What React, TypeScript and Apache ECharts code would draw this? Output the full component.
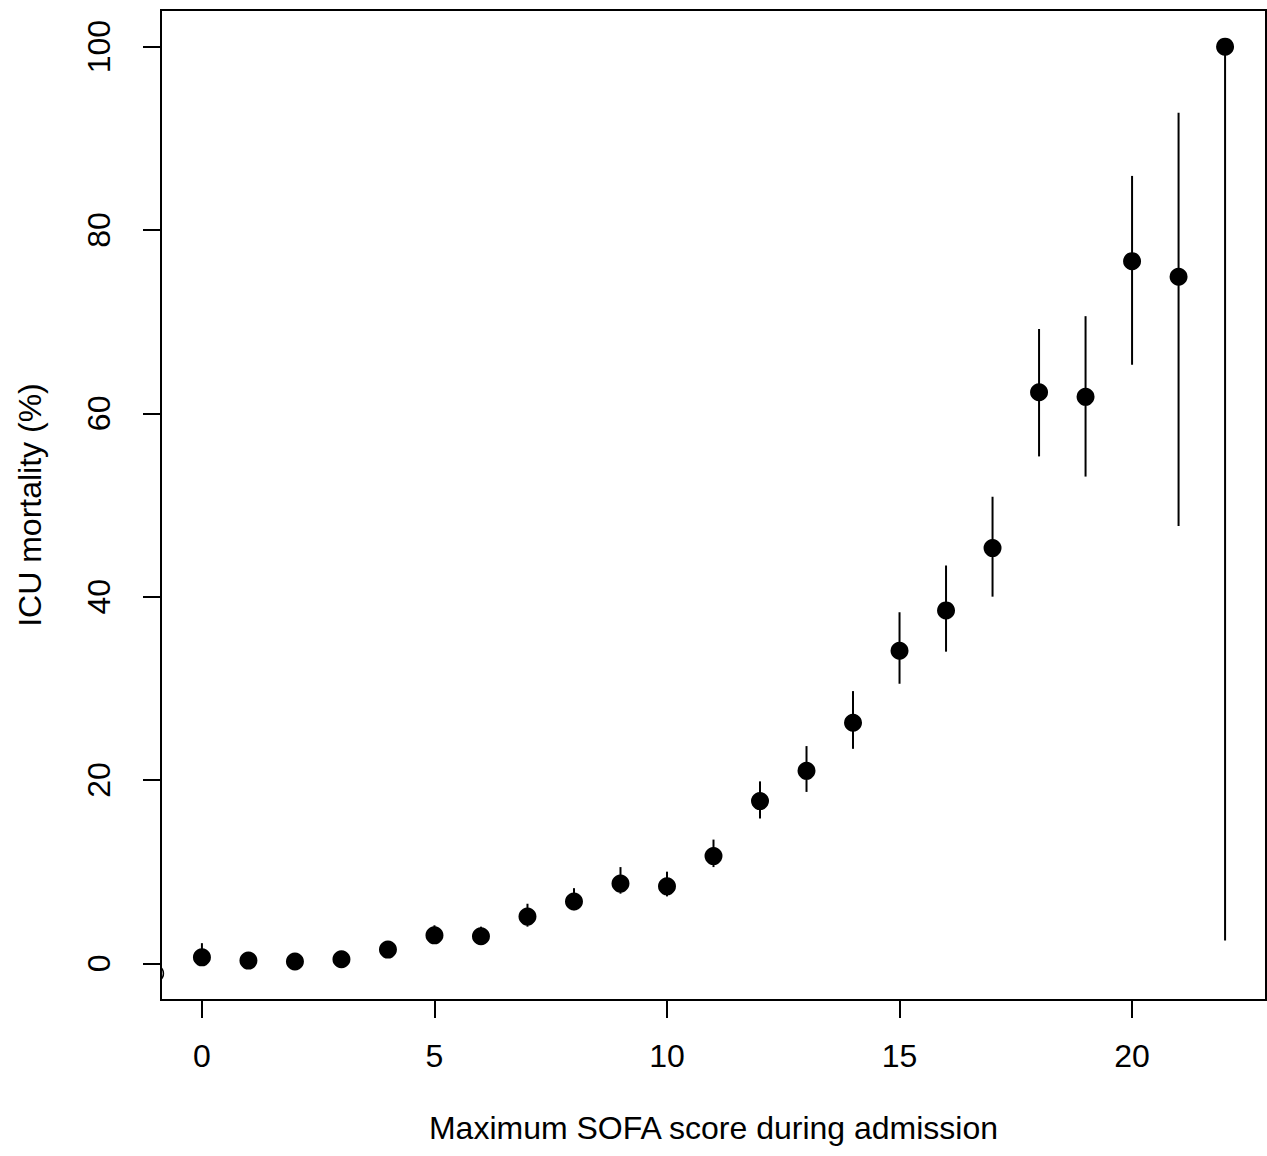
import React, { useEffect, useRef } from "react";
import * as echarts from "echarts";

const sofa = [0, 1, 2, 3, 4, 5, 6, 7, 8, 9, 10, 11, 12, 13, 14, 15, 16, 17, 18, 19, 20, 21, 22];
const mortality = [0.65, 0.3, 0.2, 0.45, 1.5, 3.05, 2.95, 5.1, 6.75, 8.7, 8.4, 11.7, 17.7, 21.0, 26.25, 34.1, 38.5, 45.3, 62.3, 61.8, 76.6, 74.9, 100];
const lower = [0.1, 0.05, 0.02, 0.1, 0.9, 2.2, 2.1, 4.0, 5.8, 7.6, 7.3, 10.5, 15.8, 18.7, 23.4, 30.5, 34.0, 40.0, 55.3, 53.1, 65.3, 47.7, 2.5];
const upper = [2.2, 1.0, 0.9, 1.2, 2.3, 4.15, 4.0, 6.5, 8.2, 10.5, 10.0, 13.5, 19.85, 23.7, 29.7, 38.3, 43.4, 50.9, 69.2, 70.6, 85.9, 92.8, 100];
const hollowPoint = [[-1, -1.1]];
const xTicks = [0, 5, 10, 15, 20];
const yTicks = [0, 20, 40, 60, 80, 100];

const FONT = "Liberation Sans, Arial, Helvetica, sans-serif";

export default function App() {
  const ref = useRef<HTMLDivElement>(null);
  useEffect(() => {
    if (!ref.current) return;
    const chart = echarts.init(ref.current, undefined, { renderer: "svg" });
    const option = {
      animation: false,
      backgroundColor: "#fff",
      grid: {
        left: 161,
        top: 10,
        right: 1,
        bottom: 156,
        show: true,
        borderColor: "#000",
        borderWidth: 2,
        backgroundColor: "transparent",
      },
      xAxis: {
        type: "value",
        min: -0.88,
        max: 22.88,
        name: "Maximum SOFA score during admission",
        nameLocation: "middle",
        nameGap: 112,
        nameTextStyle: { fontFamily: FONT, fontSize: 32, color: "#000" },
        axisLine: { show: false, onZero: false },
        splitLine: { show: false },
        axisTick: {
          show: true,
          length: 18,
          inside: false,
          customValues: xTicks,
          lineStyle: { color: "#000", width: 2 },
        },
        axisLabel: {
          customValues: xTicks,
          margin: 40,
          fontFamily: FONT,
          fontSize: 32,
          color: "#000",
        },
      },
      yAxis: {
        type: "value",
        min: -4,
        max: 104,
        name: "ICU mortality (%)",
        nameLocation: "middle",
        nameGap: 115,
        nameTextStyle: { fontFamily: FONT, fontSize: 32, color: "#000" },
        axisLine: { show: false, onZero: false },
        splitLine: { show: false },
        axisTick: {
          show: true,
          length: 18,
          inside: false,
          customValues: yTicks,
          lineStyle: { color: "#000", width: 2 },
        },
        axisLabel: {
          customValues: yTicks,
          rotate: 90,
          margin: 46,
          fontFamily: FONT,
          fontSize: 32,
          color: "#000",
        },
      },
      series: [
        {
          type: "custom",
          name: "ci",
          clip: true,
          encode: { x: 0, y: [1, 2] },
          data: sofa.map((s, i) => [s, lower[i], upper[i]]),
          renderItem: (params: any, api: any) => {
            const x = api.value(0);
            const p1 = api.coord([x, api.value(1)]);
            const p2 = api.coord([x, api.value(2)]);
            return {
              type: "line",
              shape: { x1: p1[0], y1: p1[1], x2: p2[0], y2: p2[1] },
              style: { stroke: "#000", lineWidth: 2 },
            };
          },
          z: 2,
        },
        {
          type: "scatter",
          name: "mortality",
          data: sofa.map((s, i) => [s, mortality[i]]),
          symbol: "circle",
          symbolSize: 18,
          itemStyle: { color: "#000", opacity: 1 },
          z: 3,
        },
        {
          type: "custom",
          name: "hollow",
          clip: true,
          data: hollowPoint,
          renderItem: (params: any, api: any) => {
            const p = api.coord([api.value(0), api.value(1)]);
            return {
              type: "circle",
              shape: { cx: p[0], cy: p[1], r: 8 },
              style: { fill: "none", stroke: "#000", lineWidth: 1.5 },
            };
          },
          z: 3,
        },
      ],
    };
    chart.setOption(option as any);
    return () => chart.dispose();
  }, []);
  return (
    <div
      ref={ref}
      style={{ position: "fixed", left: 0, top: 0, width: 1267, height: 1156, background: "#fff" }}
    />
  );
}
